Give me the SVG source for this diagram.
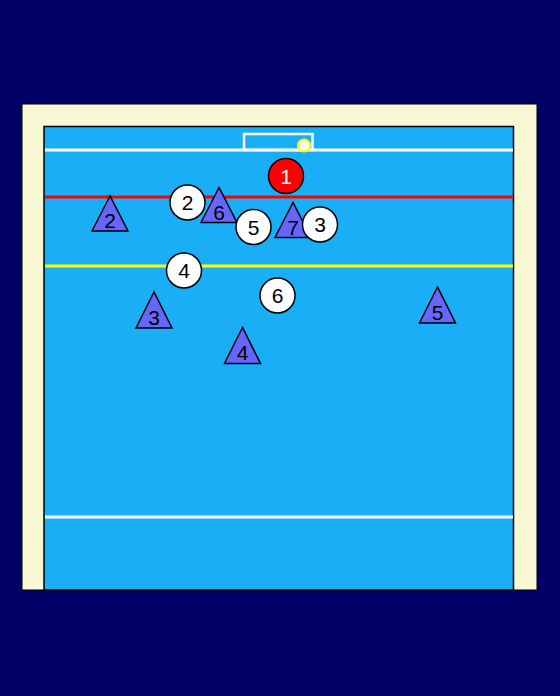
<svg xmlns="http://www.w3.org/2000/svg" width="560" height="696" viewBox="0 0 560 696">
<style>
.pl circle{fill:#ffffff;stroke:#000;stroke-width:1.5}
.tri polygon{fill:#6666ff;stroke:#000;stroke-width:1.5}
text{font-family:"Liberation Sans",Arial,sans-serif;font-size:21px;text-anchor:middle;fill:#000}
</style>
<rect x="0" y="0" width="560" height="696" fill="#000066"/>
<g id="field">
<rect x="22" y="104" width="515" height="486" fill="#f8f8d4" stroke="#000" stroke-width="1"/>
<rect x="44" y="126.5" width="469.5" height="463.5" fill="#19aef6" stroke="#000" stroke-width="1.5"/>
<line x1="45" y1="150" x2="513" y2="150" stroke="#fff" stroke-width="3"/>
<rect x="244" y="134" width="68.5" height="16" fill="none" stroke="#fff" stroke-width="2.5"/>
<line x1="45" y1="197" x2="513" y2="197" stroke="#ff0000" stroke-width="3"/>
<line x1="45" y1="266" x2="513" y2="266" stroke="#ffff00" stroke-width="3"/>
<line x1="45" y1="517" x2="513" y2="517" stroke="#fff" stroke-width="3"/>
</g>
<g id="ball"><circle cx="304" cy="145.5" r="6" fill="#fff" stroke="#ffff00" stroke-width="2"/></g>
<g id="connectors"></g>
<g id="red1"><circle cx="286" cy="176" r="17.5" fill="#ff0000" stroke="#000" stroke-width="1.5"/><text x="286" y="183.5" style="fill:#fff">1</text></g>
<g id="t2" class="tri"><polygon points="110,196 92,231 128,231"/><text x="110" y="227.5">2</text></g>
<g id="w2" class="pl"><circle cx="187.5" cy="202.5" r="17.5"/><text x="187.5" y="210">2</text></g>
<g id="t6" class="tri"><polygon points="219,187.5 201,222.5 237,222.5"/><text x="219" y="219.5">6</text></g>
<g id="w5" class="pl"><circle cx="253.5" cy="227" r="17.5"/><text x="253.5" y="234.5">5</text></g>
<g id="t7" class="tri"><polygon points="293,202.5 275,237.5 311,237.5"/><text x="293" y="234.5">7</text></g>
<g id="w3" class="pl"><circle cx="320" cy="224.5" r="17.5"/><text x="320" y="232">3</text></g>
<g id="w4" class="pl"><circle cx="184" cy="270.5" r="17.5"/><text x="184" y="278">4</text></g>
<g id="w6" class="pl"><circle cx="277.5" cy="295.5" r="17.5"/><text x="277.5" y="303">6</text></g>
<g id="t3" class="tri"><polygon points="154,292 136,328 172,328"/><text x="154" y="324.5">3</text></g>
<g id="t4" class="tri"><polygon points="242.5,327.5 224.5,363.5 260.5,363.5"/><text x="242.5" y="360">4</text></g>
<g id="t5" class="tri"><polygon points="437.5,287 419.5,323 455.5,323"/><text x="437.5" y="319.5">5</text></g>
</svg>
